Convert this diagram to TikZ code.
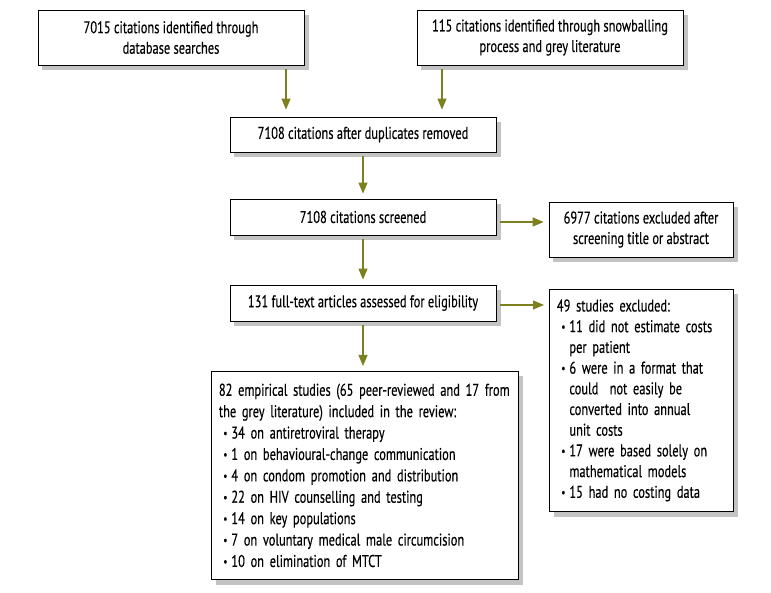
\documentclass[tikz,border=0pt]{standalone}
\usepackage{fontspec}
\setmainfont[FakeStretch=0.73, FakeBold=0.3]{PT Sans}
\usepackage{tikz}
\usetikzlibrary{calc}
\usetikzlibrary{backgrounds}
\usetikzlibrary{arrows.meta}
\definecolor{flowolive}{RGB}{125,128,30}
\definecolor{shadowgrey}{RGB}{195,195,195}
\newcommand{\itm}{\hspace*{4.5pt}\makebox[8pt][l]{\raisebox{0.08em}{\fontsize{12}{12}\selectfont\textbullet}}}
\newcommand{\cnt}{\hspace*{12.5pt}}
\tikzset{
    flowbox/.style={draw=black, line width=0.8pt, fill=white, align=center,
        font=\fontsize{17}{20.5}\selectfont, inner sep=0pt},
    listbox/.style={flowbox, align=left, anchor=north west, inner xsep=7.5pt},
    arr/.style={draw=flowolive, line width=1.2pt, -{Triangle[width=9pt,length=11pt]},
        shorten <=4pt, shorten >=5pt}
}

\begin{document}
\begin{tikzpicture}[x=1pt,y=-1pt]
        \useasboundingbox (0,0) rectangle (771,593);
        % top row
        \node[flowbox, minimum width=266, minimum height=55] (found) at (171,37.5)
            {7015 citations identified through\\database searches};
        \node[flowbox, minimum width=266, minimum height=55] (snow) at (550,37.5)
            {115 citations identified through snowballing\\process and grey literature};
        % middle column
        \node[flowbox, minimum width=266, minimum height=35] (dedup) at (363,134.5)
            {7108 citations after duplicates removed};
        \node[flowbox, minimum width=266, minimum height=36] (screen) at (363,217)
            {7108 citations screened};
        \node[flowbox, minimum width=266, minimum height=36] (fulltext) at (363,303)
            {131 full-text articles assessed for eligibility};
        % right column
        \node[flowbox, minimum width=184, minimum height=55] (excl) at (641,229.5)
            {6977 citations excluded after\\screening title or abstract};
        \node[listbox, minimum width=184, minimum height=222, text width=169,
            font=\fontsize{17}{20.7}\selectfont] (studexcl) at (549,289)
            {49 studies excluded:\\
            \itm 11 did not estimate costs\\
            \cnt per patient\\
            \itm 6 were in a format that\\
            \cnt could\ \ not easily be\\
            \cnt converted into annual\\
            \cnt unit costs\\
            \itm 17 were based solely on\\
            \cnt mathematical models\\
            \itm 15 had no costing data};
        % included
        \node[listbox, minimum width=307, minimum height=208, text width=292,
            font=\fontsize{17}{21.4}\selectfont] (incl) at (211,371)
            {82 empirical studies (65 peer-reviewed and 17 from\\
            the grey literature) included in the review:\\
            \itm 34 on antiretroviral therapy\\
            \itm 1 on behavioural-change communication\\
            \itm 4 on condom promotion and distribution\\
            \itm 22 on HIV counselling and testing\\
            \itm 14 on key populations\\
            \itm 7 on voluntary medical male circumcision\\
            \itm 10 on elimination of MTCT};
        % shadows
        \begin{pgfonlayer}{background}
            \foreach \n in {found,snow,dedup,screen,fulltext,excl,studexcl,incl}
                \fill[shadowgrey] ($(\n.north west)+(4.5,5)$) rectangle ($(\n.south east)+(4.5,5)$);
        \end{pgfonlayer}
        % arrows
        \draw[arr, shorten >=7pt] (found.south -| 286,0) -- (dedup.north -| 286,0);
        \draw[arr, shorten >=7pt] (snow.south -| 442,0) -- (dedup.north -| 442,0);
        \draw[arr] (dedup.south) -- (screen.north);
        \draw[arr] (screen.south) -- (fulltext.north);
        \draw[arr] (fulltext.south) -- (incl.north -| fulltext.south);
        \draw[arr] (screen.east |- 0,222) -- (excl.west |- 0,222);
        \draw[arr] (fulltext.east |- 0,305) -- (studexcl.west |- 0,305);
    \end{tikzpicture}
\end{document}
